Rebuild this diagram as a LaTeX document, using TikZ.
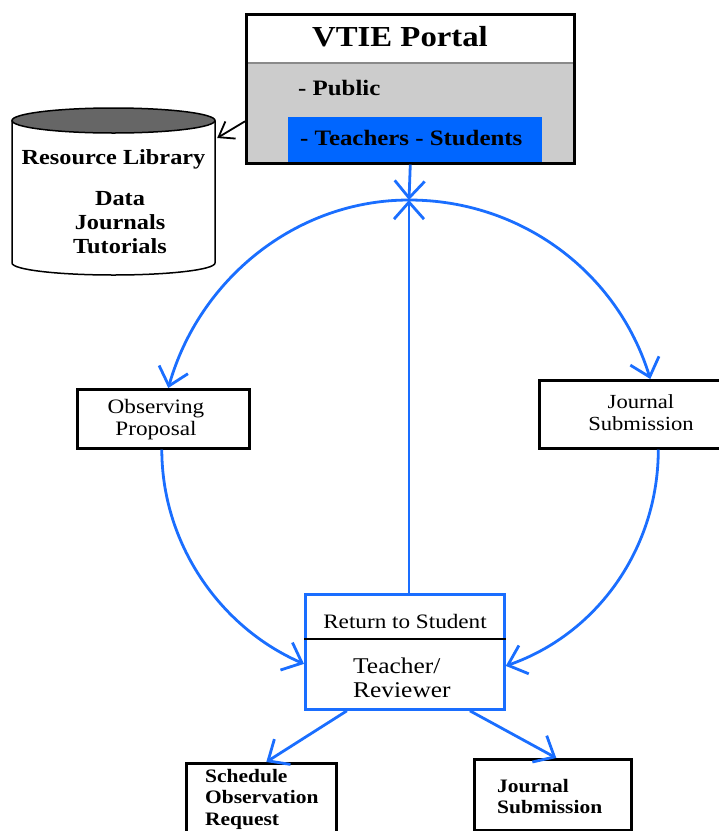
\documentclass[tikz,border=0pt]{standalone}
\usepackage{fontspec}
\setmainfont{Liberation Serif}
\usepackage{graphicx}
\usetikzlibrary{arrows.meta}
\definecolor{vblue}{HTML}{0066FF}
\definecolor{lblue}{HTML}{1A6EFF}
\definecolor{pgrey}{HTML}{CCCCCC}
\definecolor{divgrey}{HTML}{8A8A8A}
\definecolor{dgrey}{HTML}{666666}
\newcommand\wtxt[3]{\scalebox{1.13}[1]{\fontsize{#1}{#2}\selectfont #3}}
\begin{document}
\begin{tikzpicture}[x=1pt,y=1pt,
  box/.style={draw=black, line width=2.6pt, inner sep=0pt, anchor=north west},
  bline/.style={draw=lblue, line width=2.8pt},
  btip/.style={-{Straight Barb[length=17pt,width=30pt]}},
  txt/.style={inner sep=0pt, anchor=base},
  txtl/.style={inner sep=0pt, anchor=base west},
]
\useasboundingbox (0,0) rectangle (719,-831);
\clip (0,0) rectangle (719,-831);

% ---- VTIE portal
\fill[pgrey] (245,-63) rectangle (573,-162);
\fill[vblue] (288,-117) rectangle (542,-162);
\draw[divgrey, line width=2.2pt] (245,-63) -- (573,-63);
\node[box, minimum width=328pt, minimum height=149pt] (portal) at (245,-13) {};
\node[txt] (ptitle) at (400,-46) {\wtxt{29}{32}{\bfseries VTIE Portal}};
\node[txtl] (ppub) at (298,-95) {\wtxt{22}{24}{\bfseries - Public}};
\node[txtl] (pts) at (300,-145) {\wtxt{22}{24}{\bfseries - Teachers - Students}};

% ---- Resource library cylinder
\draw[line width=1.5pt, fill=white] (12,-120.5) -- (12,-263)
  arc[start angle=180, end angle=360, x radius=101.5, y radius=12] -- (215,-120.5);
\draw[line width=1.5pt, fill=dgrey] (113.5,-120.5) ellipse[x radius=101.5, y radius=12.5];
\node[inner sep=0pt, minimum width=203pt, minimum height=155pt] (lib) at (113.5,-192) {};
\node[txt] (libtitle) at (113.5,-164) {\wtxt{21.5}{24}{\bfseries Resource Library}};
\node[txt] (libitems) at (120,-205) {\wtxt{21.5}{24}{\bfseries\begin{tabular}[t]{@{}c@{}}Data\\Journals\\Tutorials\end{tabular}}};
\draw[black, line width=1.8pt, -{Straight Barb[length=14pt,width=20pt]}]
  ([yshift=-32.5pt]portal.west) -- ([xshift=2pt,yshift=54pt]lib.east);

% ---- Observing proposal
\node[box, minimum width=172pt, minimum height=59pt] (op) at (76,-388) {};
\node[txt] (optext) at (156,-413) {\wtxt{20.5}{22}{\begin{tabular}[t]{@{}c@{}}Observing\\Proposal\end{tabular}}};

% ---- Journal submission (top right)
\node[box, minimum width=240pt, minimum height=68pt] (js) at (538,-379) {};
\node[txt] (jstext) at (641,-408) {\wtxt{20}{22}{\begin{tabular}[t]{@{}c@{}}Journal\\Submission\end{tabular}}};

% ---- Teacher / reviewer
\node[draw=lblue, line width=2.8pt, inner sep=0pt, anchor=north west,
      minimum width=199pt, minimum height=115pt] (teach) at (304,-593) {};
\draw[black, line width=1.3pt] (teach.west |- 0,-639) -- (teach.east |- 0,-639);
\node[txt] (ret) at (405,-628) {\wtxt{20.5}{22}{Return to Student}};
\node[txtl] (tr) at (353,-673) {\wtxt{22.5}{24}{\begin{tabular}[t]{@{}l@{}}Teacher/\\Reviewer\end{tabular}}};

% ---- bottom boxes
\node[box, minimum width=150pt, minimum height=100pt] (sched) at (185,-762) {};
\node[txtl] (schedtext) at (205,-782) {\wtxt{19}{21.5}{\bfseries\begin{tabular}[t]{@{}l@{}}Schedule\\Observation\\Request\end{tabular}}};
\node[box, minimum width=157pt, minimum height=71pt] (js2) at (473,-758) {};
\node[txtl] (js2text) at (497,-792) {\wtxt{19}{21.5}{\bfseries\begin{tabular}[t]{@{}l@{}}Journal\\Submission\end{tabular}}};

% ---- connectors
\coordinate (top) at (409,-200);
\draw[bline, btip] (portal.south) -- (top);
\draw[bline, btip] (teach.north -| top) -- (top);
\draw[bline, btip] (top) .. controls +(-113,0) and +(31,109) .. ([xshift=5pt]op.north);
\draw[bline, btip] (top) .. controls +(112,0) and +(-33,107) .. ([xshift=-9pt]js.north);
\draw[bline, btip] ([xshift=-1.5pt]op.south) .. controls +(0,-93) and +(-85,37) .. ([yshift=-12pt]teach.west);
\draw[bline, btip] ([xshift=-1pt]js.south) .. controls +(0,-98) and +(92,32) .. ([yshift=-14pt]teach.east);
\draw[bline, btip] ([xshift=-58pt]teach.south) -- ([xshift=5pt]sched.north);
\draw[bline, btip] ([xshift=65pt]teach.south) -- ([xshift=3.5pt]js2.north);
\end{tikzpicture}
\end{document}
